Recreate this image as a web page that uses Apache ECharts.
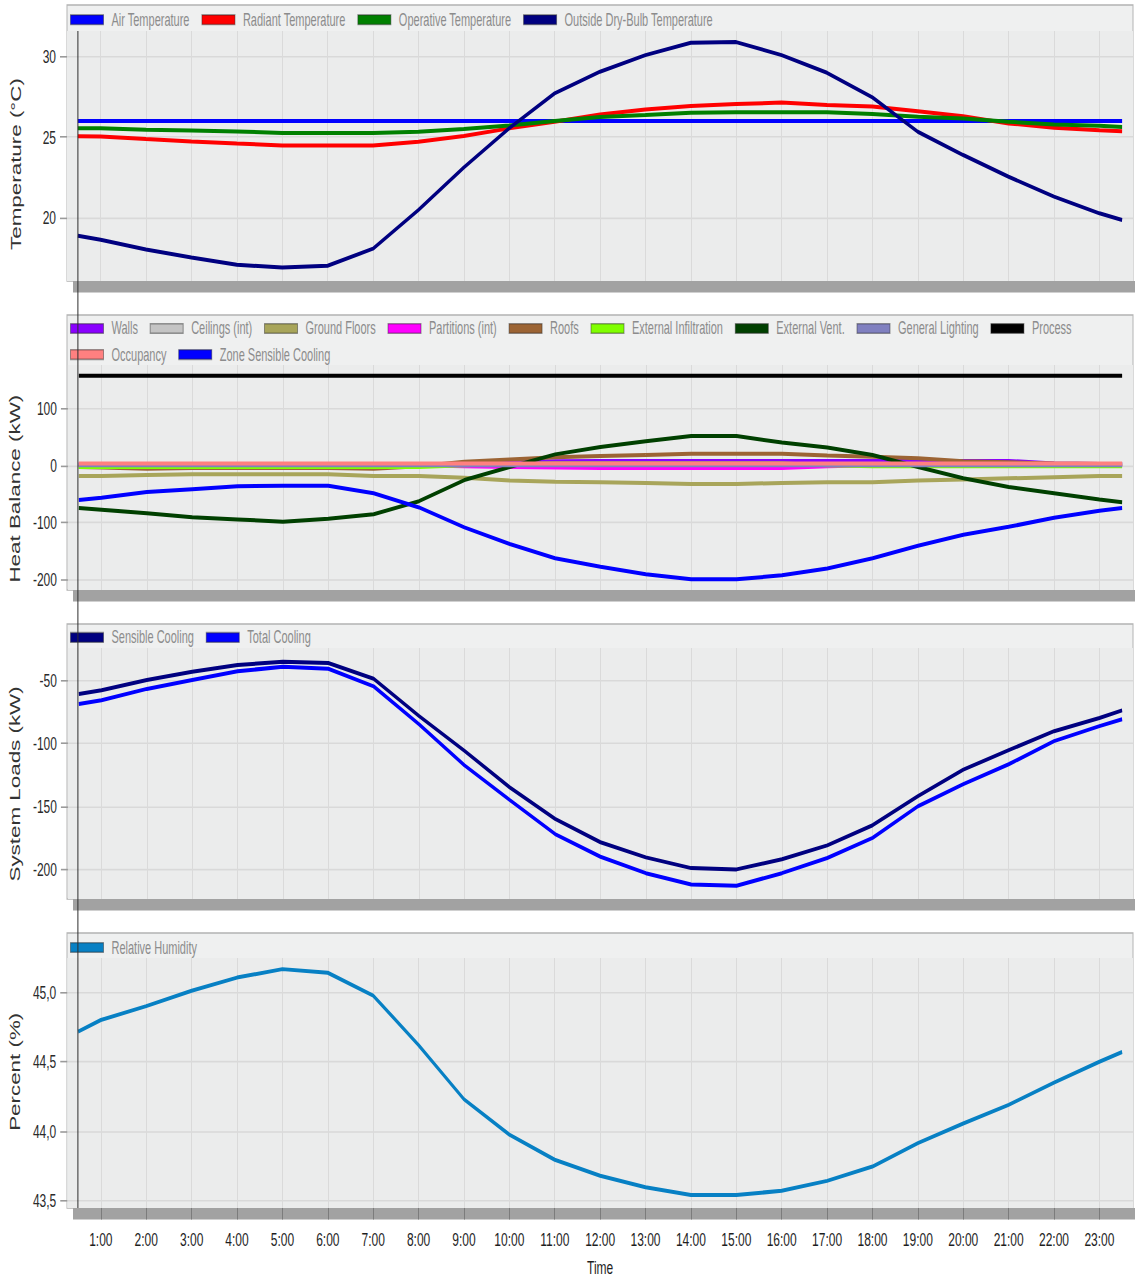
<!DOCTYPE html>
<html>
<head>
<meta charset="utf-8">
<script src="https://cdn.jsdelivr.net/npm/echarts@6/dist/echarts.min.js"></script>
<style>
  html { margin: 0; padding: 0; background: #ffffff; overflow: hidden; }
  body { margin: 0; padding: 0; background: #ffffff; width: 1135px; height: 1281px; }
  /* the dashboard is laid out on a compact canvas and stretched vertically */
  #chart { width: 1135px; height: 800.625px; transform: scaleY(1.6); transform-origin: 0 0; }
</style>
</head>
<body>
<div id="chart"></div>
<script>
// ---- time axis (hours of the design day) ----
const hours = [0.5, 1, 2, 3, 4, 5, 6, 7, 8, 9, 10, 11, 12, 13, 14, 15, 16, 17, 18, 19, 20, 21, 22, 23, 23.5];
const hourTicks = [1, 2, 3, 4, 5, 6, 7, 8, 9, 10, 11, 12, 13, 14, 15, 16, 17, 18, 19, 20, 21, 22, 23];

// ---- temperatures (°C) ----
const airTemp       = [26, 26, 26, 26, 26, 26, 26, 26, 26, 26, 26, 26, 26, 26, 26, 26, 26, 26, 26, 26, 26, 26, 26, 26, 26];
const radiantTemp   = [25.05, 25.04, 24.88, 24.73, 24.6, 24.48, 24.48, 24.48, 24.71, 25.06, 25.54, 25.95, 26.4, 26.72, 26.93, 27.05, 27.15, 27.0, 26.9, 26.6, 26.3, 25.85, 25.58, 25.42, 25.36];
const operativeTemp = [25.55, 25.55, 25.45, 25.4, 25.35, 25.25, 25.25, 25.25, 25.33, 25.5, 25.72, 26.0, 26.25, 26.37, 26.52, 26.54, 26.54, 26.54, 26.43, 26.27, 26.16, 25.95, 25.78, 25.7, 25.63];
const outsideTemp   = [18.86, 18.6, 18.0, 17.5, 17.05, 16.88, 16.99, 18.05, 20.46, 23.1, 25.55, 27.72, 29.07, 30.1, 30.87, 30.91, 30.1, 29.0, 27.47, 25.33, 23.88, 22.53, 21.29, 20.25, 19.83];

// ---- zone heat balance (kW) ----
const walls          = [1, 1, 1, 1, 1, 1, 1, 1, 1, 2, 5, 7, 7.5, 7.5, 7.5, 7.5, 7.5, 7.5, 7.5, 7.5, 7.5, 7.5, 3, 2, 2];
const ceilings       = [0, 0, 0, 0, 0, 0, 0, 0, 0, 0, 0, 0, 0, 0, 0, 0, 0, 0, 0, 0, 0, 0, 0, 0, 0];
const groundFloors   = [-19, -19, -17, -16, -16, -16, -16, -19, -19, -22, -27, -29, -30, -31, -33, -33, -31, -30, -30, -27, -25, -23, -21, -19, -19];
const partitions     = [2, 2, 1, 0, 0, 0, 0, 0, 0, -2, -3, -4, -5, -5, -5, -5, -5, -2, 0, 0, 0, 0, 0, 0, 0];
const roofs          = [-3, -4, -6, -5, -5, -5, -5, -6, -2, 6, 10, 14, 16, 18, 20, 20, 20, 17, 15, 12, 7, 5, 3, 2, 2];
const infiltration   = [-3, -3, -3, -3, -3, -3, -3, -3, -3, 0, 2, 3, 3, 3, 3, 3, 3, 0, -2, -2, -2, -2, -2, -2, -2];
const externalVent   = [-75, -78, -84, -91, -95, -99, -94, -86, -63, -26, -3, 19, 32, 42, 51, 51, 40, 31, 18, -3, -23, -38, -49, -60, -65];
const lighting       = [0, 0, 0, 0, 0, 0, 0, 0, 0, 0, 0, 0, 0, 0, 0, 0, 0, 0, 0, 0, 0, 0, 0, 0, 0];
const processGain    = [157, 157, 157, 157, 157, 157, 157, 157, 157, 157, 157, 157, 157, 157, 157, 157, 157, 157, 157, 157, 157, 157, 157, 157, 157];
const occupancy      = [3, 3, 3, 3, 3, 3, 3, 3, 3, 3, 3, 3, 3, 3, 3, 3, 3, 3, 3, 3, 3, 3, 3, 3, 3];
const zoneSensible   = [-61, -57, -47, -42, -37, -36, -36, -49, -74, -109, -138, -163, -178, -191, -200, -200, -193, -181, -163, -141, -122, -108, -92, -80, -75];

// ---- system loads (kW) ----
const sensibleCooling = [-61, -58, -50, -43.5, -38, -35.5, -36.5, -49, -78.5, -106, -135, -160, -178.5, -190.5, -199, -200, -192, -181, -165, -142, -121, -105.5, -90.5, -80, -74];
const totalCooling    = [-69, -66, -57, -50, -43, -39.5, -41, -55, -85, -117.5, -145, -172, -190, -203, -212, -213, -203, -191, -175, -150, -132.5, -116.7, -98.4, -86.5, -81];

// ---- relative humidity (%) ----
const humidity = [44.717, 44.80, 44.90, 45.01, 45.105, 45.166, 45.14, 44.976, 44.62, 44.23, 43.976, 43.795, 43.68, 43.597, 43.541, 43.541, 43.572, 43.643, 43.746, 43.915, 44.056, 44.19, 44.35, 44.5, 44.57];

// ---- axis tick values ----
const tempTicks     = [20, 25, 30];
const balanceTicks  = [-200, -100, 0, 100];
const loadTicks     = [-200, -150, -100, -50];
const humidityTicks = [43.5, 44.0, 44.5, 45.0];

// ---- panel layout ----
const PANELS = [
  { boxTop: 3.1,   gridTop: 19.4,  gridBottom: 175.6, legendTops: [1.8] },
  { boxTop: 196.9, gridTop: 228.1, gridBottom: 368.75, legendTops: [194.8, 211.1] },
  { boxTop: 390,   gridTop: 405,   gridBottom: 561.9, legendTops: [387.9] },
  { boxTop: 583.1, gridTop: 598.75, gridBottom: 755,  legendTops: [581.7] }
];
const PLOT_LEFT = 67, PLOT_RIGHT = 1133, BAR_LEFT = 73, BAR_RIGHT = 1135, BAR_H = 7.2;
const X_MIN = 0.26, X_MAX = 23.74;
const FONT = '"Liberation Sans", Arial, sans-serif';

const yAxisDefs = [
  { name: 'Temperature (°C)', min: 16.04, max: 31.6, ticks: tempTicks, fmt: v => String(v), pad: [0, 10, 0, 0] },
  { name: 'Heat Balance (kW)', min: -218.7, max: 175.7, ticks: balanceTicks, fmt: v => String(v), pad: [0, 14, 0, 0] },
  { name: 'System Loads (kW)', min: -223.5, max: -24.6, ticks: loadTicks, fmt: v => String(v), pad: [0, 13, 0, 0] },
  { name: 'Percent (%)', min: 43.448, max: 45.246, ticks: humidityTicks, fmt: v => v.toFixed(1).replace('.', ','), pad: [0, 0, 0, 14] }
];

const seriesDefs = [
  // panel 0
  { name: 'Air Temperature', data: airTemp, color: '#0000ff', panel: 0 },
  { name: 'Radiant Temperature', data: radiantTemp, color: '#ff0000', panel: 0 },
  { name: 'Operative Temperature', data: operativeTemp, color: '#008000', panel: 0 },
  { name: 'Outside Dry-Bulb Temperature', data: outsideTemp, color: '#000080', panel: 0 },
  // panel 1
  { name: 'Walls', data: walls, color: '#8a00ff', panel: 1 },
  { name: 'Ceilings (int)', data: ceilings, color: '#c4c4c4', panel: 1 },
  { name: 'Ground Floors', data: groundFloors, color: '#a8a55a', panel: 1 },
  { name: 'Partitions (int)', data: partitions, color: '#ff00ff', panel: 1 },
  { name: 'Roofs', data: roofs, color: '#9c6434', panel: 1 },
  { name: 'External Infiltration', data: infiltration, color: '#80ff00', panel: 1 },
  { name: 'External Vent.', data: externalVent, color: '#004000', panel: 1 },
  { name: 'General Lighting', data: lighting, color: '#8080c0', panel: 1 },
  { name: 'Process', data: processGain, color: '#000000', panel: 1 },
  { name: 'Occupancy', data: occupancy, color: '#ff8080', panel: 1 },
  { name: 'Zone Sensible Cooling', data: zoneSensible, color: '#0000ff', panel: 1 },
  // panel 2
  { name: 'Sensible Cooling', data: sensibleCooling, color: '#000080', panel: 2 },
  { name: 'Total Cooling', data: totalCooling, color: '#0000ff', panel: 2 },
  // panel 3
  { name: 'Relative Humidity', data: humidity, color: '#0780c4', panel: 3 }
];

const legendGroups = [
  { panel: 0, row: 0, names: ['Air Temperature', 'Radiant Temperature', 'Operative Temperature', 'Outside Dry-Bulb Temperature'] },
  { panel: 1, row: 0, names: ['Walls', 'Ceilings (int)', 'Ground Floors', 'Partitions (int)', 'Roofs', 'External Infiltration', 'External Vent.', 'General Lighting', 'Process'] },
  { panel: 1, row: 1, names: ['Occupancy', 'Zone Sensible Cooling'] },
  { panel: 2, row: 0, names: ['Sensible Cooling', 'Total Cooling'] },
  { panel: 3, row: 0, names: ['Relative Humidity'] }
];

const chart = echarts.init(document.getElementById('chart'), null, { renderer: 'svg' });

const grids = PANELS.map(p => ({
  left: PLOT_LEFT,
  top: p.gridTop,
  width: PLOT_RIGHT - PLOT_LEFT,
  height: p.gridBottom - p.gridTop,
  show: true,
  backgroundColor: '#ebecec',
  borderWidth: 0
}));

const xAxes = PANELS.map((p, i) => {
  const last = i === PANELS.length - 1;
  return {
    type: 'value',
    gridIndex: i,
    min: X_MIN,
    max: X_MAX,
    axisLine: { show: false },
    axisTick: { show: last, customValues: hourTicks, length: BAR_H, lineStyle: { color: '#7c7c7c', width: 1 } },
    axisLabel: {
      show: last,
      customValues: hourTicks,
      margin: 13.5,
      formatter: v => v + ':00',
      color: '#1e1e1e',
      fontSize: 12,
      fontFamily: FONT
    },
    splitLine: { show: true, lineStyle: { color: '#dadada', width: 1 } },
    name: last ? 'Time' : '',
    nameLocation: 'middle',
    nameGap: 31,
    nameTextStyle: { color: '#1e1e1e', fontSize: 12, fontFamily: FONT }
  };
});

const yAxes = yAxisDefs.map((d, i) => ({
  type: 'value',
  gridIndex: i,
  min: d.min,
  max: d.max,
  axisLine: { show: false },
  axisTick: { show: true, customValues: d.ticks, length: 7, lineStyle: { color: '#9a9a9a', width: 1 } },
  axisLabel: { customValues: d.ticks, formatter: d.fmt, margin: 11, color: '#2a2a2a', fontSize: 12, fontFamily: FONT },
  splitLine: { show: true, lineStyle: { color: '#d9d9d9', width: 1 } },
  name: d.name,
  nameLocation: 'middle',
  nameGap: 44,
  nameTextStyle: { color: '#333333', fontSize: 14, fontFamily: FONT, padding: d.pad }
}));

const series = seriesDefs.map(s => ({
  name: s.name,
  type: 'line',
  xAxisIndex: s.panel,
  yAxisIndex: s.panel,
  data: hours.map((h, k) => [h, s.data[k]]),
  showSymbol: false,
  symbol: 'none',
  color: s.color,
  lineStyle: { color: s.color, width: 2.5 },
  emphasis: { disabled: true },
  animation: false,
  silent: true
}));

const legends = legendGroups.map(g => ({
  data: g.names,
  left: 65,
  top: PANELS[g.panel].legendTops[g.row],
  orient: 'horizontal',
  icon: 'rect',
  itemWidth: 33,
  itemHeight: 6,
  itemGap: 11.7,
  selectedMode: false,
  itemStyle: { borderColor: 'rgba(40,40,40,0.45)', borderWidth: 1 },
  textStyle: { color: '#8c8c8c', fontSize: 11, fontFamily: FONT, padding: [0, 0, 0, 3] }
}));

// panel frames and the grey strips under each plot
const frames = [];
PANELS.forEach((p, i) => {
  frames.push({
    type: 'rect', id: 'frame' + i, z: -5,
    shape: { x: PLOT_LEFT, y: p.boxTop, width: PLOT_RIGHT - PLOT_LEFT, height: p.gridBottom - p.boxTop },
    style: { fill: '#eff0f0', stroke: '#b3b3b3', lineWidth: 1 }
  });
  frames.push({
    type: 'rect', id: 'strip' + i, z: -5,
    shape: { x: BAR_LEFT, y: p.gridBottom, width: BAR_RIGHT - BAR_LEFT, height: BAR_H },
    style: { fill: '#a2a2a2' }
  });
});

chart.setOption({
  animation: false,
  backgroundColor: '#ffffff',
  grid: grids,
  xAxis: xAxes,
  yAxis: yAxes,
  legend: legends,
  series: series,
  graphic: { elements: frames }
});

// time cursor at the first sample, running through all four panels
const cursorX = chart.convertToPixel({ xAxisIndex: 0 }, hours[0]);
chart.setOption({
  graphic: {
    elements: [{
      type: 'line', id: 'cursor', z: 50,
      shape: { x1: cursorX, y1: PANELS[0].gridTop, x2: cursorX, y2: PANELS[3].gridBottom },
      style: { stroke: '#2e2e2e', lineWidth: 1 }
    }]
  }
});
</script>
</body>
</html>
